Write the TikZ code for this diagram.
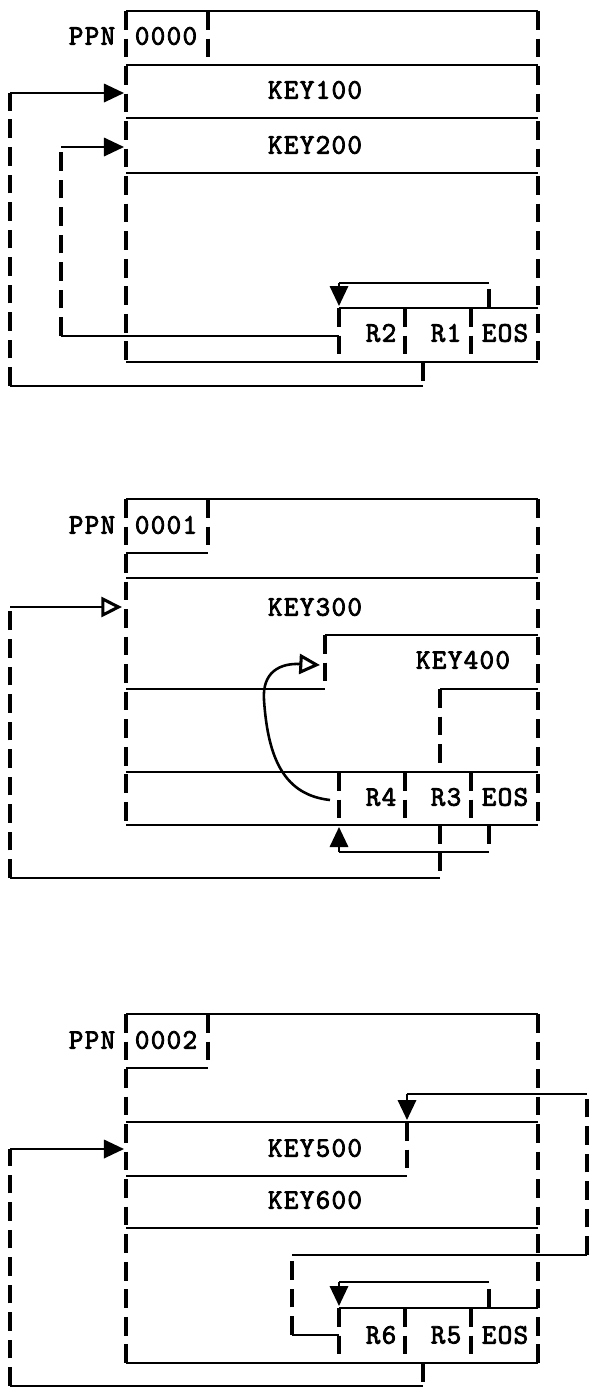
\documentclass[tikz,border=0pt]{standalone}
\usepackage{fontspec}
\newfontfamily\typew{Latin Modern Mono}[LetterSpace=5, FakeBold=3]
\usetikzlibrary{arrows.meta}
\begin{document}
\begin{tikzpicture}[x=0.03cm, y=-0.03cm,
  hl/.style={line width=2pt},
  vl/.style={line width=2.8pt, dash pattern=on 16pt off 7.5pt},
  lbl/.style={font=\typew\fontsize{24}{26}\selectfont, inner sep=0pt},
  arr/.style={-{Triangle[length=0.6cm,width=0.55cm]}},
  arro/.style={-{Triangle[open,length=0.62cm,width=0.6cm,line width=2.6pt]}}]
\useasboundingbox (0,0) rectangle (590,1388);

\draw[hl] (126,11) -- (538,11);
\draw[vl] (126,11) -- (126,362);
\draw[vl] (538,11) -- (538,362);
\draw[vl] (208,11) -- (208,65);
\draw[hl] (126,65) -- (538,65);
\draw[hl] (126,118) -- (538,118);
\draw[hl] (126,173) -- (538,173);
\draw[hl] (339,308) -- (538,308);
\draw[vl] (339,308) -- (339,362);
\draw[vl] (405,308) -- (405,362);
\draw[vl] (471,308) -- (471,362);
\draw[hl] (126,362) -- (538,362);
\node[lbl] (ppn1) at (92,36) {PPN};
\node[lbl] (id1) at (166,36) {0000};
\node[lbl] (key100) at (315,90) {KEY100};
\node[lbl] (key200) at (315,145) {KEY200};
\node[lbl] (r2) at (381,333) {R2};
\node[lbl] (r1) at (446,333) {R1};
\node[lbl] (eos1) at (505,333) {EOS};
\draw[vl] (423,362) -- (423,386);
\draw[hl] (423,386) -- (10,386);
\draw[vl] (10,386) -- (10,93);
\draw[hl,arr] (10,93) -- (124,93);
\draw[hl] (339,336) -- (61,336);
\draw[vl] (61,336) -- (61,147);
\draw[hl,arr] (61,147) -- (124,147);
\draw[vl] (489,308) -- (489,283);
\draw[hl] (489,283) -- (339,283);
\draw[hl,arr] (339,283) -- (339,306);

\draw[hl] (126,499) -- (538,499);
\draw[vl] (126,499) -- (126,825);
\draw[vl] (538,499) -- (538,825);
\draw[vl] (208,499) -- (208,553);
\draw[hl] (126,553) -- (208,553);
\draw[hl] (126,578) -- (538,578);
\draw[hl] (325,635) -- (538,635);
\draw[vl] (325,635) -- (325,689);
\draw[hl] (126,689) -- (325,689);
\draw[hl] (440,689) -- (538,689);
\draw[vl] (440,689) -- (440,772);
\draw[hl] (126,772) -- (538,772);
\draw[vl] (339,772) -- (339,825);
\draw[vl] (405,772) -- (405,825);
\draw[vl] (471,772) -- (471,825);
\draw[hl] (126,825) -- (538,825);
\node[lbl] (ppn2) at (92,525) {PPN};
\node[lbl] (id2) at (166,525) {0001};
\node[lbl] (key300) at (315,607) {KEY300};
\node[lbl] (key400) at (463,660) {KEY400};
\node[lbl] (r4) at (381,797) {R4};
\node[lbl] (r3) at (446,797) {R3};
\node[lbl] (eos2) at (505,797) {EOS};
\draw[vl] (440,825) -- (440,878);
\draw[hl] (440,878) -- (10,878);
\draw[vl] (10,878) -- (10,607);
\draw[hl,arro] (10,607) -- (122,607);
\draw[vl] (489,825) -- (489,852);
\draw[hl] (489,852) -- (339,852);
\draw[hl,arr] (339,852) -- (339,827);
\draw[line width=2.2pt,arro] (330,800) .. controls (285,795) and (268,760) .. (264,700)
  .. controls (262,672) and (280,663) .. (320,665);

\draw[hl] (126,1014) -- (538,1014);
\draw[vl] (126,1014) -- (126,1363);
\draw[vl] (538,1014) -- (538,1363);
\draw[vl] (208,1014) -- (208,1068);
\draw[hl] (126,1068) -- (208,1068);
\draw[hl] (126,1122) -- (538,1122);
\draw[vl] (407,1122) -- (407,1176);
\draw[hl] (126,1176) -- (407,1176);
\draw[hl] (126,1228) -- (538,1228);
\draw[hl] (339,1308) -- (538,1308);
\draw[vl] (339,1308) -- (339,1363);
\draw[vl] (405,1308) -- (405,1363);
\draw[vl] (471,1308) -- (471,1363);
\draw[hl] (126,1363) -- (538,1363);
\node[lbl] (ppn3) at (92,1040) {PPN};
\node[lbl] (id3) at (166,1040) {0002};
\node[lbl] (key500) at (315,1148) {KEY500};
\node[lbl] (key600) at (315,1200) {KEY600};
\node[lbl] (r6) at (381,1335) {R6};
\node[lbl] (r5) at (446,1335) {R5};
\node[lbl] (eos3) at (505,1335) {EOS};
\draw[vl] (489,1308) -- (489,1282);
\draw[hl] (489,1282) -- (339,1282);
\draw[hl,arr] (339,1282) -- (339,1306);
\draw[hl] (339,1335) -- (292,1335);
\draw[vl] (292,1335) -- (292,1255);
\draw[hl] (292,1255) -- (587,1255);
\draw[vl] (587,1255) -- (587,1094);
\draw[hl] (587,1094) -- (407,1094);
\draw[hl,arr] (407,1094) -- (407,1120);
\draw[vl] (423,1363) -- (423,1386);
\draw[hl] (423,1386) -- (10,1386);
\draw[vl] (10,1386) -- (10,1149);
\draw[hl,arr] (10,1149) -- (124,1149);
\end{tikzpicture}
\end{document}
